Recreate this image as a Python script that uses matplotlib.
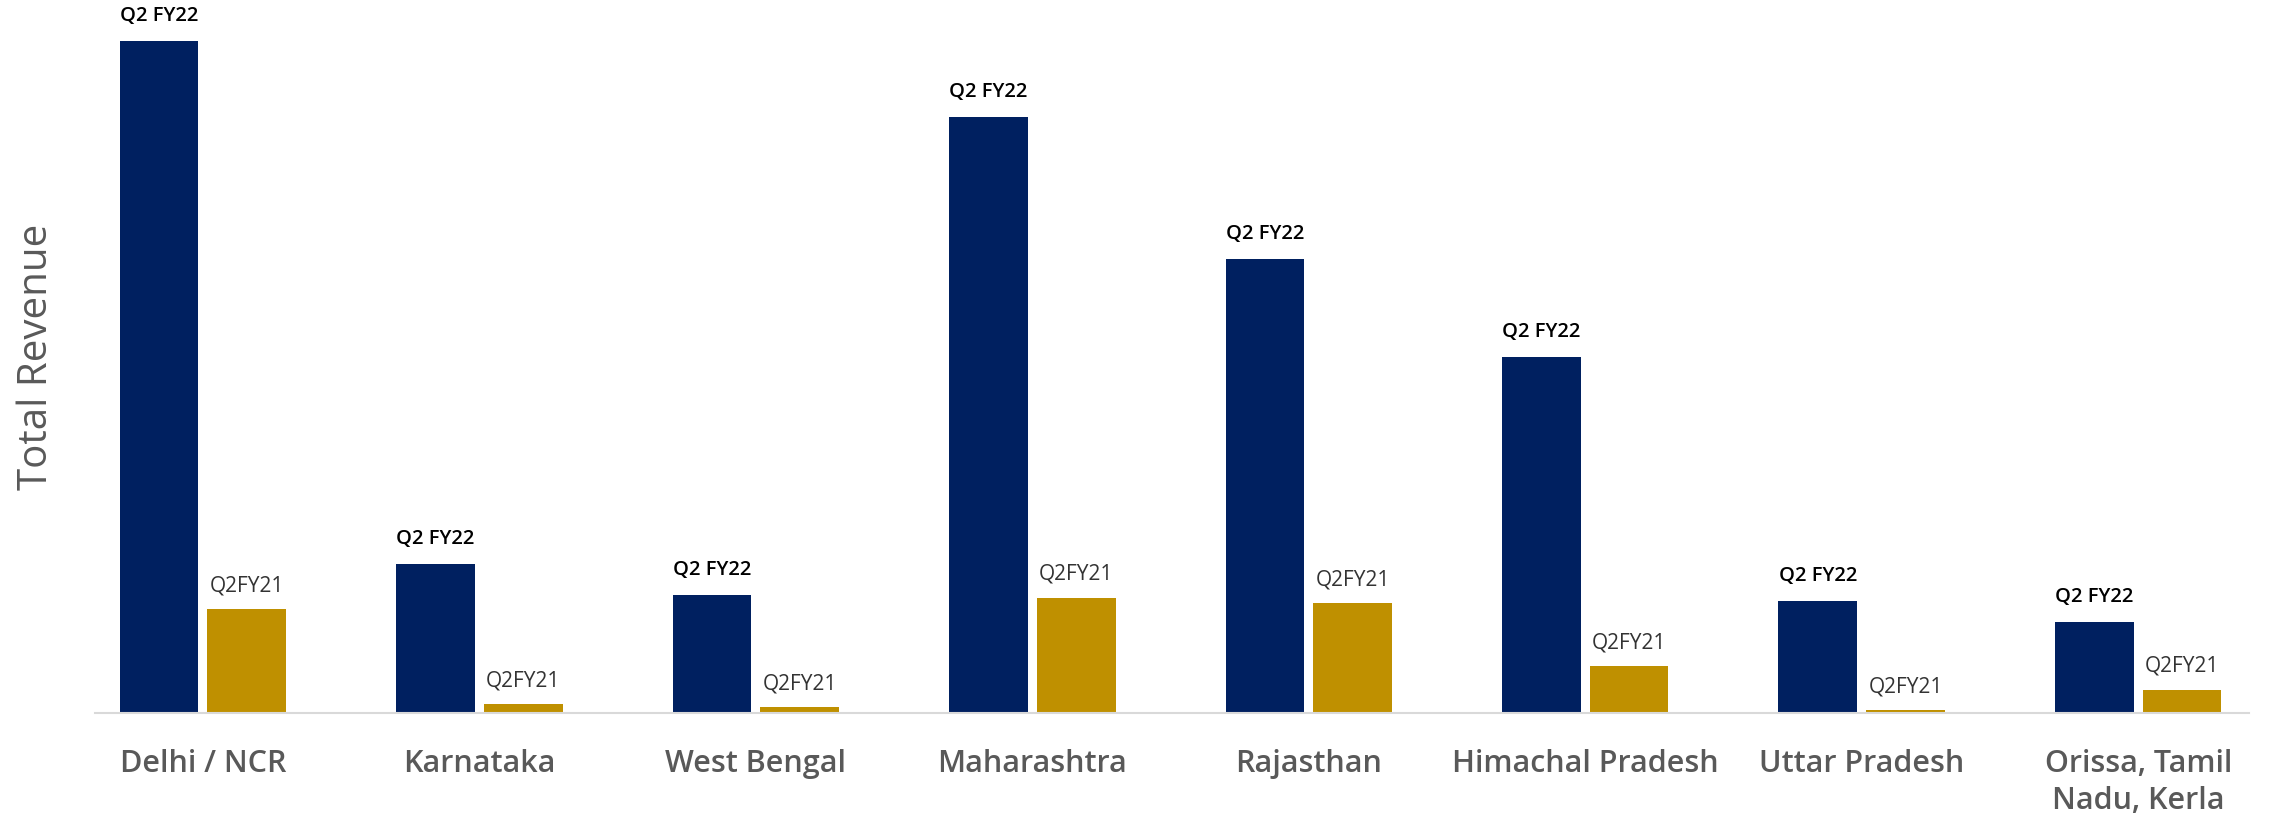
import matplotlib
matplotlib.use('Agg')
import matplotlib.pyplot as plt
import numpy as np

# values (relative units, no axis scale shown)
regions = ['Delhi / NCR', 'Karnataka', 'West Bengal', 'Maharashtra', 'Rajasthan',
           'Himachal Pradesh', 'Uttar Pradesh', 'Orissa, Tamil\nNadu, Kerla']
q2fy22 = [460, 102, 81, 408, 311, 244, 77, 62]
q2fy21 = [71, 6, 4, 79, 75, 32, 2, 16]
label_22 = 'Q2 FY22'
label_21 = 'Q2FY21'

navy = '#002060'
gold = '#BF9000'

fig = plt.figure(figsize=(22.9, 8.21), dpi=100)
ax = fig.add_axes([0.0415, 0.1315, 0.9405, 0.8685])

x = np.arange(len(regions))
w = 0.285
off = 0.1585
b1 = ax.bar(x - off, q2fy22, width=w, color=navy)
b2 = ax.bar(x + off, q2fy21, width=w, color=gold)

for rect in b1:
    ax.annotate(label_22, (rect.get_x() + rect.get_width() / 2, rect.get_height()),
                xytext=(0, 18), textcoords='offset points', ha='center', va='center',
                fontsize=14.5, fontweight='semibold', color='black', family='Open Sans')
for rect in b2:
    ax.annotate(label_21, (rect.get_x() + rect.get_width() / 2, rect.get_height()),
                xytext=(0, 17), textcoords='offset points', ha='center', va='center',
                fontsize=15, color='#333333', family='Open Sans')

ax.set_xlim(-0.39, 7.4)
ax.set_ylim(0, 488)
ax.set_xticks(x)
ax.set_xticklabels(regions, fontsize=22, fontweight='semibold', color='#595959',
                   family='Open Sans', linespacing=1.3)
ax.tick_params(axis='x', length=0, pad=26)
ax.set_yticks([])
for s in ['top', 'right', 'left']:
    ax.spines[s].set_visible(False)
ax.spines['bottom'].set_color('#D9D9D9')
ax.spines['bottom'].set_linewidth(1.5)

fig.text(0.016, 0.565, 'Total Revenue', rotation=90, ha='center', va='center',
         fontsize=29, color='#595959', family='Open Sans')

fig.savefig('out.png', dpi=100)
